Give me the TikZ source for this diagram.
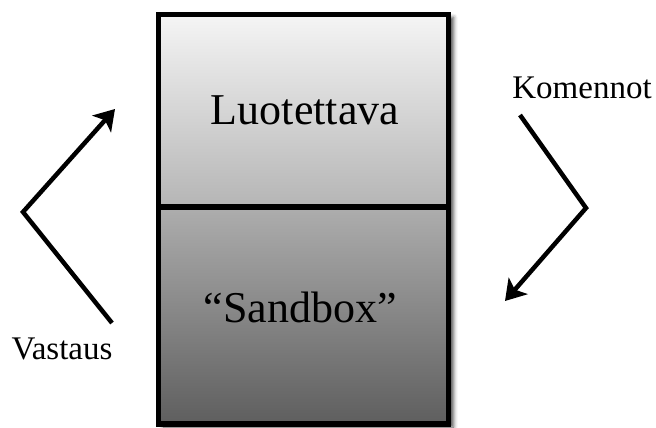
\documentclass[tikz,border=0pt]{standalone}
\usepackage{fontspec}
\setmainfont{Liberation Serif}
\usetikzlibrary{arrows.meta,shadows.blur}
\tikzset{
  part/.style={draw=black, line width=5.5pt, minimum width=290pt, inner sep=0pt, outer sep=0pt},
  bigtext/.style={font=\fontsize{44}{48}\selectfont, inner sep=0pt},
  sidetext/.style={font=\fontsize{33}{36}\selectfont, inner sep=0pt},
  flow/.style={line width=4.5pt, -{Stealth[length=20pt,width=25pt,inset=5pt]}}
}
\begin{document}
\begin{tikzpicture}[x=1pt,y=-1pt]
\useasboundingbox (0,0) rectangle (656,428);
% shadow frame
\node[fill=white, minimum width=290pt, minimum height=409.5pt, inner sep=0pt,
      blur shadow={shadow xshift=5pt, shadow yshift=-3pt, shadow blur radius=4pt, shadow opacity=70}]
      (frame) at (303.5,219.25) {};
\node[part, minimum height=192.5pt, top color=black!4, bottom color=black!29] (top) at (303.5,110.75) {};
\node[part, minimum height=217pt, top color=black!32, bottom color=black!63] (bottom) at (303.5,315.5) {};
\node[bigtext] (ltxt) at (305,110.5) {Luotettava};
\node[bigtext] (stxt) at (300,307) {“Sandbox”};
\node[sidetext] (vast) at (62,349) {Vastaus};
\node[sidetext] (kom) at (582,88) {Komennot};
% arrows
\coordinate (la) at (112,323);
\coordinate (lv) at (23,212);
\coordinate (lb) at (115,109);
\draw[flow] (la) -- (lv) -- (lb);
\coordinate (ra) at (520,115);
\coordinate (rv) at (586,208);
\coordinate (rb) at (505,301);
\draw[flow] (ra) -- (rv) -- (rb);
\end{tikzpicture}
\end{document}
